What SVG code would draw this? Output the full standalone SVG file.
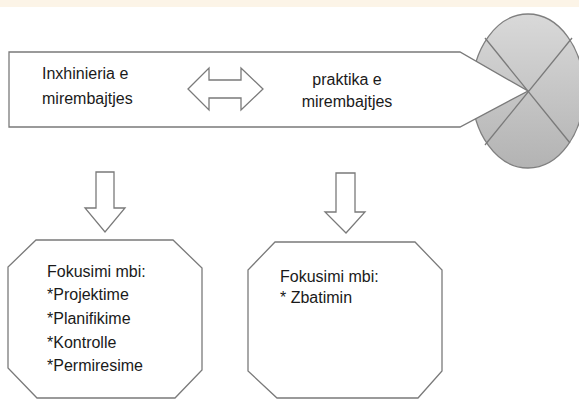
<svg xmlns="http://www.w3.org/2000/svg" width="579" height="400" viewBox="0 0 579 400">
  <defs>
    <linearGradient id="gray" x1="0" y1="0" x2="0" y2="1">
      <stop offset="0" stop-color="#d9d9d9"/>
      <stop offset="1" stop-color="#b3b3b3"/>
    </linearGradient>
    <style>
      .ln { fill: none; stroke: #7a7a7a; stroke-width: 1.3; stroke-linejoin: miter; }
      .shape { fill: #ffffff; stroke: #7a7a7a; stroke-width: 1.3; }
      .t { font-family: "Liberation Sans", Arial, sans-serif; font-size: 16px; fill: #1a1a1a; }
    </style>
  </defs>
  <rect x="0" y="0" width="579" height="400" fill="#ffffff"/>
  <rect x="0" y="0" width="579" height="7" fill="#fcf4e7"/>

  <g id="circle">
    <ellipse cx="528" cy="91" rx="56" ry="77" fill="url(#gray)" stroke="#7f7f7f" stroke-width="1.3"/>
    <line class="ln" x1="485" y1="38" x2="570" y2="143"/>
    <line class="ln" x1="572" y1="38" x2="485" y2="145"/>
  </g>

  <g id="banner">
    <polygon class="shape" points="9,52 460,52 528,91 460,127 9,127"/>
    <text class="t" x="42" y="79">Inxhinieria e</text>
    <text class="t" x="42" y="104">mirembajtjes</text>
    <text class="t" x="347" y="85" text-anchor="middle">praktika e</text>
    <text class="t" x="347" y="107" text-anchor="middle">mirembajtjes</text>
  </g>

  <g id="connectors">
    <polygon class="shape" points="188,89 209,68 209,80 241,80 241,68 263,89 241,110 241,98 209,98 209,110"/>
    <polygon class="shape" points="96,172 114,172 114,208 125,208 105,232 85,208 96,208"/>
    <polygon class="shape" points="336,173 355,173 355,212 365,212 346,233 325,212 336,212"/>
  </g>

  <g id="box-left">
    <polygon class="shape" points="36,240 173,240 202,268 202,370 175,398 37,398 8,368 8,267"/>
    <text class="t" x="47" y="277">Fokusimi mbi:</text>
    <text class="t" x="47" y="300">*Projektime</text>
    <text class="t" x="47" y="324">*Planifikime</text>
    <text class="t" x="47" y="348">*Kontrolle</text>
    <text class="t" x="47" y="371">*Permiresime</text>
  </g>

  <g id="box-right">
    <polygon class="shape" points="275,242 415,242 442,270 442,371 418,398 277,398 248,371 248,270"/>
    <text class="t" x="280" y="282">Fokusimi mbi:</text>
    <text class="t" x="280" y="303">*  Zbatimin</text>
  </g>
</svg>
